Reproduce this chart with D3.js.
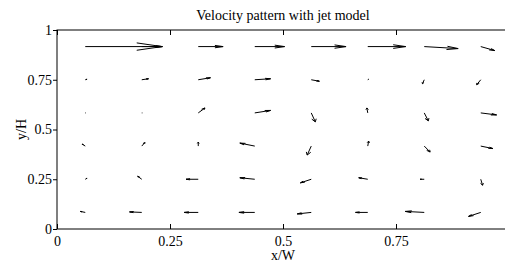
<!DOCTYPE html>
<html>
<head>
<meta charset="utf-8">
<script src="https://cdn.jsdelivr.net/npm/d3@7"></script>
<style>
  body { margin: 0; background: #fff; }
  text { font-family: "Liberation Serif", "Times New Roman", serif; fill: #000; }
</style>
</head>
<body>
<div id="chart"></div>
<script>
// grid where the velocity is sampled (x/W, y/H)
const xs = [0.0625, 0.1875, 0.3125, 0.4375, 0.5625, 0.6875, 0.8125, 0.9375]
const ys = [1/12, 3/12, 5/12, 7/12, 9/12, 11/12]

// velocity components, one row per ys value (bottom row first), already scaled to axis units
const u = [
	[-0.011, -0.027, -0.031, -0.035, -0.031, -0.027, -0.042, -0.027],
	[ 0.004, -0.009, -0.027, -0.033, -0.024, -0.020, -0.009,  0.004],
	[-0.007,  0.007,  0.000, -0.033, -0.009,  0.002,  0.013,  0.027],
	[ 0.001,  0.001,  0.015,  0.035,  0.009, -0.002,  0.009,  0.035],
	[ 0.004,  0.015,  0.027,  0.035,  0.018,  0.002, -0.004, -0.009],
	[ 0.170,  0.046,  0.055,  0.066,  0.077,  0.084,  0.075,  0.031]
]
const v = [
	[ 0.005,  0.0025, 0.000,  0.000, -0.0075, 0.000,  0.005, -0.020],
	[ 0.005,  0.015,  0.000,  0.0075,-0.018,  0.0075, 0.000, -0.030],
	[ 0.010,  0.018,  0.020,  0.015, -0.045,  0.025, -0.030, -0.0125],
	[ 0.000,  0.000,  0.025,  0.0125,-0.045,  0.025, -0.040, -0.010],
	[ 0.0025, 0.005,  0.010,  0.005, -0.0075, 0.0025,-0.020, -0.025],
	[ 0.000,  0.000,  0.000,  0.000,  0.000,  0.000, -0.010, -0.020]
]

const xTicks = [0, 0.25, 0.5, 0.75, 1]
const xTickLabels = ["0", "0.25", "0.5", "0.75", ""]   // "1" falls outside the window
const yTicks = [0, 0.25, 0.5, 0.75, 1]
const yTickLabels = ["0", "0.25", "0.5", "0.75", "1"]

const W = 505, H = 262
const margin = {top: 30, left: 57},
	w = 452, h = 199
const fontSize = "14px"

const svg = d3.select("#chart").append("svg")
	.attr("width", W)
	.attr("height", H)

const g = svg.append("g")
	.attr("transform", "translate(" + margin.left + "," + margin.top + ")")

const x = d3.scaleLinear().domain([0, 1]).range([0, w])
const y = d3.scaleLinear().domain([0, 1]).range([h, 0])

// axes box
g.append("rect")
	.attr("x", 0).attr("y", 0)
	.attr("width", w).attr("height", h)
	.attr("fill", "none")
	.attr("stroke", "#000")
	.attr("stroke-width", 1)

// x ticks point inward (bottom and top), labels below
const xAxis = d3.axisBottom(x).tickValues(xTicks).tickSize(-5).tickPadding(7)
	.tickFormat((d, i) => xTickLabels[i])
const gX = g.append("g").attr("transform", "translate(0," + h + ")").call(xAxis)
const xAxisTop = d3.axisTop(x).tickValues(xTicks).tickSize(-5).tickFormat("")
const gXT = g.append("g").call(xAxisTop)

const yAxis = d3.axisLeft(y).tickValues(yTicks).tickSize(4).tickPadding(1)
	.tickFormat((d, i) => yTickLabels[i])
const gY = g.append("g").call(yAxis)

;[gX, gXT, gY].forEach(a => {
	a.select(".domain").remove()
	a.selectAll(".tick line").attr("stroke", "#000")
	a.selectAll(".tick text")
		.style("font-family", "'Liberation Serif', serif")
		.style("font-size", fontSize)
		.attr("fill", "#000")
})

// quiver arrows, same head rule as MATLAB (alpha = beta = 0.33, in data units)
const alpha = 0.33, beta = 0.33
const arrows = []
ys.forEach((yy, j) => {
	xs.forEach((xx, i) => {
		arrows.push({x: xx, y: yy, u: u[j][i], v: v[j][i]})
	})
})

const line = d3.line().x(p => x(p[0])).y(p => y(p[1]))

const q = g.append("g").attr("class", "quiver")
q.selectAll("path.shaft")
	.data(arrows)
	.enter()
	.append("path")
	.attr("class", "shaft")
	.attr("d", d => line([[d.x, d.y], [d.x + d.u, d.y + d.v]]))
	.attr("fill", "none")
	.attr("stroke", "#000")
	.attr("stroke-width", 1)

q.selectAll("path.head")
	.data(arrows)
	.enter()
	.append("path")
	.attr("class", "head")
	.attr("d", function(d) {
		var tx = d.x + d.u, ty = d.y + d.v
		var p1 = [tx - alpha * (d.u + beta * d.v), ty - alpha * (d.v - beta * d.u)]
		var p2 = [tx - alpha * (d.u - beta * d.v), ty - alpha * (d.v + beta * d.u)]
		return line([p1, [tx, ty], p2])
	})
	.attr("fill", "none")
	.attr("stroke", "#000")
	.attr("stroke-width", 1)

// title and labels
g.append("text")
	.attr("x", x(0.5))
	.attr("y", -10)
	.attr("text-anchor", "middle")
	.style("font-size", fontSize)
	.text("Velocity pattern with jet model")

g.append("text")
	.attr("x", x(0.5))
	.attr("y", h + 31)
	.attr("text-anchor", "middle")
	.style("font-size", fontSize)
	.text("x/W")

g.append("text")
	.attr("transform", "translate(-31," + (h / 2) + ") rotate(-90)")
	.attr("text-anchor", "middle")
	.style("font-size", fontSize)
	.text("y/H")
</script>
</body>
</html>
